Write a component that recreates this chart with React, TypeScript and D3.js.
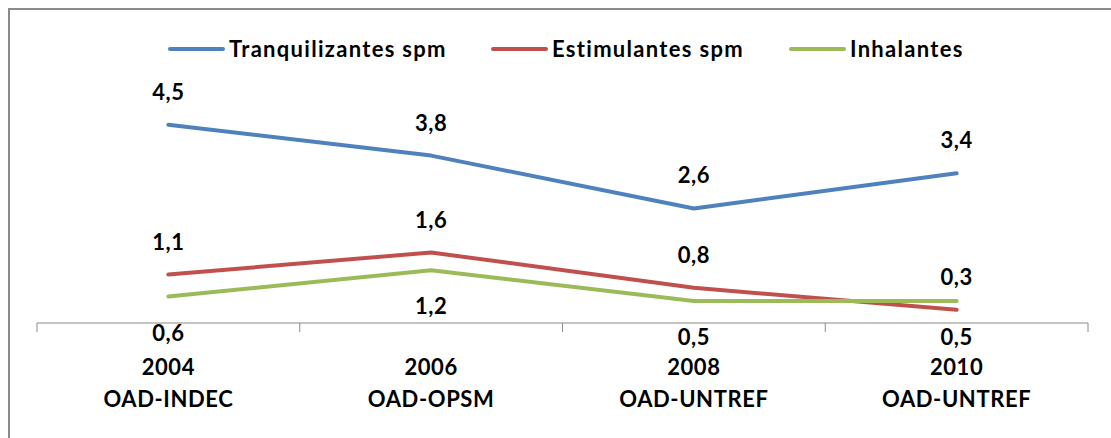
import React from "react";
import * as d3 from "d3";

const categories = ["2004", "2006", "2008", "2010"];
const sources = ["OAD-INDEC", "OAD-OPSM", "OAD-UNTREF", "OAD-UNTREF"];
const seriesNames = ["Tranquilizantes spm", "Estimulantes spm", "Inhalantes"];
const tranquilizantes = [4.5, 3.8, 2.6, 3.4];
const estimulantes = [1.1, 1.6, 0.8, 0.3];
const inhalantes = [0.6, 1.2, 0.5, 0.5];
const colors = ["#4F81BD", "#C0504D", "#9BBB59"];
const labelSide = ["above", "above", "below"];

const W = 1111;
const H = 438;
const FONT = "Lato, 'Open Sans', sans-serif";
const FS = 22;

export default function App() {
  const x = d3.scaleBand<string>().domain(categories).range([37, 1088]).padding(0);
  const bw = x.bandwidth();
  const cx = (c: string) => (x(c) as number) + bw / 2;
  const y = d3.scaleLinear().domain([0, 6]).range([323, 323 - 6 * 44.05]);
  const series = [tranquilizantes, estimulantes, inhalantes];
  const line = d3
    .line<number>()
    .x((_, i) => cx(categories[i]))
    .y((d) => y(d));
  const edges = [...categories.map((c) => x(c) as number), 1088];
  const legendX = [170, 493, 791];
  const fmt = (v: number) => v.toFixed(1).replace(".", ",");

  return (
    <svg
      width={W}
      height={H}
      style={{ position: "absolute", left: 0, top: 0, background: "#fff" }}
      fontFamily={FONT}
      fontWeight="bold"
      fontSize={FS}
      letterSpacing={0.6}
    >
      <rect x={9} y={9} width={1200} height={600} fill="#fff" stroke="#8a8a8a" strokeWidth={2} />
      {/* legend */}
      {seriesNames.map((n, i) => (
        <g key={n} transform={`translate(${legendX[i]},49)`}>
          <line x1={0} x2={53} y1={0} y2={0} stroke={colors[i]} strokeWidth={4} strokeLinecap="round" />
          <text x={59} y={8} fill="#000" letterSpacing={1.3}>
            {n}
          </text>
        </g>
      ))}
      {/* axis */}
      <line x1={37} x2={1088} y1={y(0)} y2={y(0)} stroke="#8a8a8a" strokeWidth={1} />
      {edges.map((e, i) => (
        <line key={i} x1={e} x2={e} y1={y(0)} y2={y(0) + 9} stroke="#8a8a8a" strokeWidth={1} />
      ))}
      {categories.map((c, i) => (
        <g key={c}>
          <text x={cx(c)} y={375} textAnchor="middle" fill="#000">
            {c}
          </text>
          <text x={cx(c)} y={407} textAnchor="middle" fill="#000">
            {sources[i]}
          </text>
        </g>
      ))}
      {/* lines */}
      {series.map((s, i) => (
        <path
          key={i}
          d={line(s) as string}
          fill="none"
          stroke={colors[i]}
          strokeWidth={4}
          strokeLinecap="round"
          strokeLinejoin="round"
        />
      ))}
      {/* data labels */}
      {series.map((s, i) =>
        s.map((v, j) => (
          <text
            key={`${i}-${j}`}
            x={cx(categories[j])}
            y={labelSide[i] === "above" ? y(v) - 25 : y(v) + 44}
            textAnchor="middle"
            fill="#000"
          >
            {fmt(v)}
          </text>
        ))
      )}
    </svg>
  );
}
